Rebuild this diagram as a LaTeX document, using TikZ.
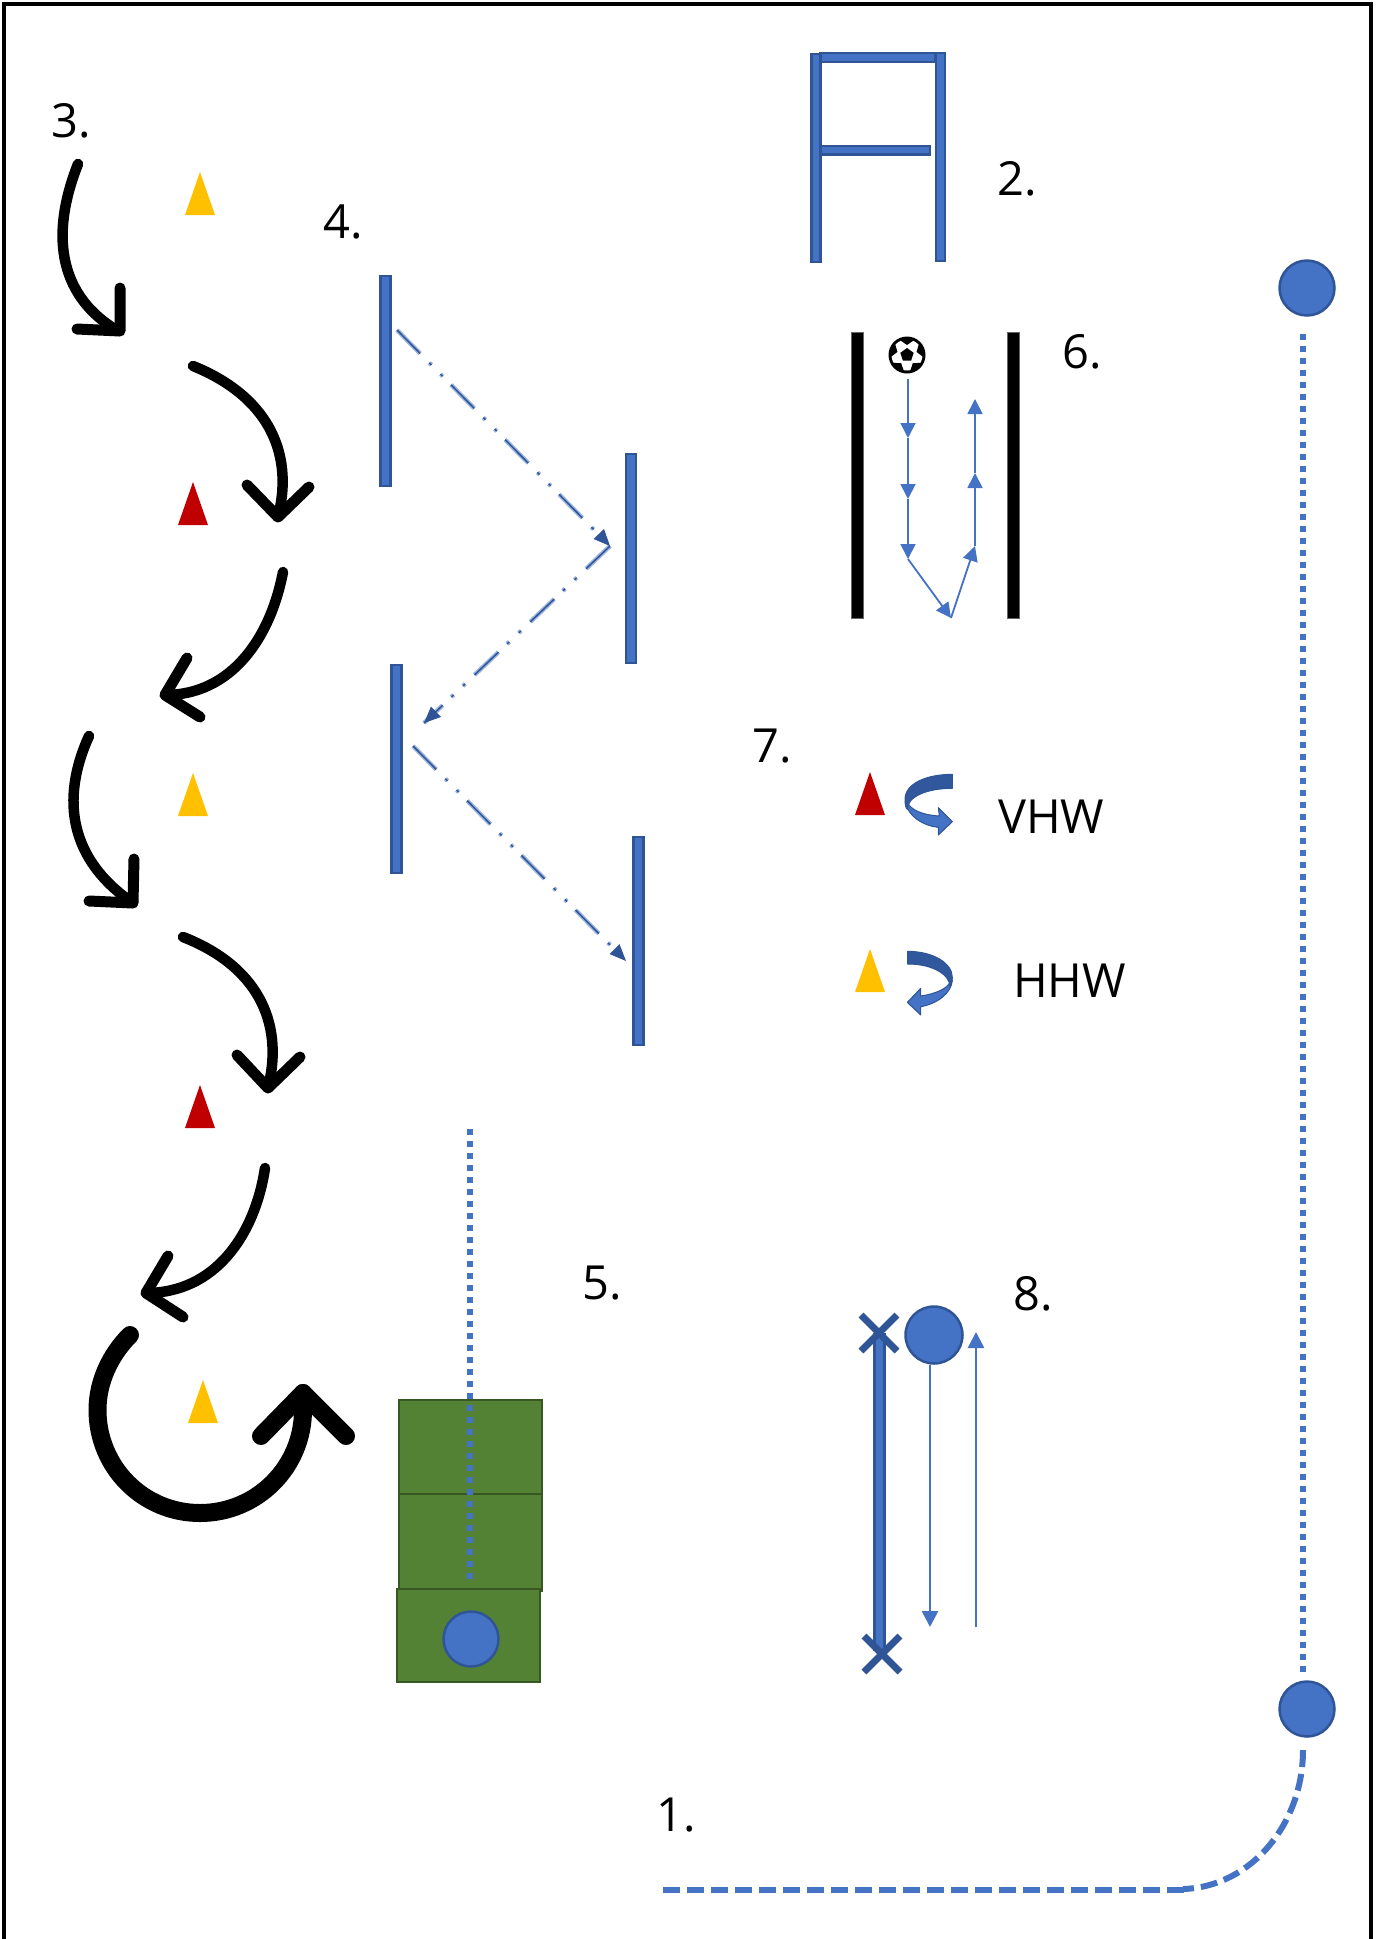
\documentclass[tikz,border=0pt]{standalone}
\usepackage{fontspec}
\setmainfont{Open Sans}
\usetikzlibrary{arrows.meta}
\definecolor{bluefill}{HTML}{4472C4}
\definecolor{blueedge}{HTML}{2F5597}
\definecolor{bluelight}{HTML}{9DB4DE}
\definecolor{greenfill}{HTML}{548235}
\definecolor{greenedge}{HTML}{385723}
\definecolor{conered}{HTML}{C00000}
\definecolor{conegold}{HTML}{FFC000}
\tikzset{
  lab/.style={inner sep=0pt,anchor=base west,font=\fontsize{47}{57}\selectfont,text=black},
  bar/.style={draw=blueedge,fill=bluefill,line width=2.5pt,inner sep=0pt,outer sep=0pt},
  blackbar/.style={fill=black,draw=black!60,line width=0.5pt,inner sep=0pt,outer sep=0pt},
  greenbox/.style={draw=greenedge,fill=greenfill,line width=2.2pt,inner sep=0pt,outer sep=0pt},
  disc/.style={circle,draw=blueedge,fill=bluefill,line width=2.5pt,inner sep=0pt,outer sep=0pt,minimum size=55pt},
  swoop/.style={draw=black,line width=10.5pt,line cap=round,line join=round},
  swoophead/.style={draw=black,line width=11pt,line cap=round,line join=round},
  bigswoop/.style={draw=black,line width=18pt,line cap=round,line join=round},
  thinarrow/.style={draw=bluefill,line width=1.8pt,-{Triangle[length=15pt,width=15pt]}},
  longarrow/.style={draw=bluefill,line width=2.6pt,-{Triangle[length=16pt,width=16pt]}},
  dotline/.style={draw=bluefill,line width=6pt,dash pattern=on 6pt off 6pt},
  dashline/.style={draw=bluefill,line width=6pt,dash pattern=on 17pt off 7pt},
  crossmark/.style={draw=blueedge,line width=7pt},
  ribbondark/.style={fill=blueedge!90!bluefill,draw=blueedge,line width=1pt,line join=round},
  ribbonlight/.style={fill=bluefill,draw=blueedge,line width=1pt,line join=round},
  ddotline/.style={line width=4.4pt,draw=bluelight,dash pattern=on 33pt off 13pt on 3pt off 13pt on 3pt off 12pt},
  ddotcore/.style={line width=1.5pt,draw=blueedge,dash pattern=on 33pt off 13pt on 3pt off 13pt on 3pt off 12pt},
  ddothead/.style={fill=blueedge},
}
\begin{document}
\begin{tikzpicture}[x=1pt,y=-1pt]
\useasboundingbox (0,0) rectangle (1381,1939);
% frame
\draw[black,line width=4pt] (4,1945) -- (4,4) -- (1371,4) -- (1371,1945);

% labels
\node[lab] (l1) at (656,1831) {1.};
\node[lab] (l2) at (997,195) {2.};
\node[lab] (l3) at (51,137) {3.};
\node[lab] (l4) at (323,238) {4.};
\node[lab] (l5) at (582,1299) {5.};
\node[lab] (l6) at (1062,368) {6.};
\node[lab] (l7) at (752,762) {7.};
\node[lab] (l8) at (1013,1310) {8.};
\node[lab] (vhw) at (998,833) {VHW};
\node[lab] (hhw) at (1013,997) {HHW};

% cones
\fill[conegold] (200,172) -- (215,215) -- (185,215) -- cycle;
\fill[conered] (193,482) -- (208,525) -- (178,525) -- cycle;
\fill[conegold] (193,773) -- (208,816) -- (178,816) -- cycle;
\fill[conered] (200,1085) -- (215,1128) -- (185,1128) -- cycle;
\fill[conegold] (203,1380) -- (218,1423) -- (188,1423) -- cycle;
\fill[conered] (870,772) -- (885,815) -- (855,815) -- cycle;
\fill[conegold] (870,949) -- (885,992) -- (855,992) -- cycle;

% black swoops
\draw[swoop] (78,164) .. controls (48,240) and (62,298) .. (118,331);
\draw[swoophead] (120,288) -- (120,331) -- (77,329);
\draw[swoop] (193,366) .. controls (265,395) and (295,450) .. (278,517);
\draw[swoophead] (247,485) -- (278,517) -- (309,487);
\draw[swoop] (283,572) .. controls (270,640) and (230,695) .. (165,695);
\draw[swoophead] (187,658) -- (165,695) -- (200,717);
\draw[swoop] (89,736) .. controls (60,800) and (70,860) .. (133,903);
\draw[swoophead] (134,859) -- (133,903) -- (89,901);
\draw[swoop] (183,937) .. controls (255,965) and (285,1020) .. (268,1088);
\draw[swoophead] (237,1055) -- (268,1088) -- (300,1057);
\draw[swoop] (265,1168) .. controls (255,1235) and (215,1293) .. (146,1293);
\draw[swoophead] (168,1256) -- (146,1293) -- (183,1317);
\draw[bigswoop] (130,1335) .. controls (110,1355) and (97.5,1382) .. (97.5,1410)
   .. controls (97.5,1467) and (143,1513) .. (200,1513)
   .. controls (257,1513) and (303,1467) .. (303,1410) -- (303,1393);
\draw[bigswoop] (261,1436) -- (303,1393) -- (346,1436);

% bars of item 4
\node[bar,minimum width=10pt,minimum height=210pt] (b1) at (385.5,381) {};
\node[bar,minimum width=10pt,minimum height=209pt] (b2) at (631,558.5) {};
\node[bar,minimum width=10pt,minimum height=208pt] (b3) at (396.5,769) {};
\node[bar,minimum width=10pt,minimum height=208pt] (b4) at (638.5,941) {};
\coordinate (za) at (397,330);
\coordinate (zb) at (610,546);
\coordinate (zc) at (424,723);
\coordinate (zd) at (413,746);
\coordinate (ze) at (626,961);
\foreach \p/\q in {za/zb,zb/zc,zd/ze}{
  \draw[ddotline] (\p) -- (\q);
  \draw[ddotcore] (\p) -- (\q);
}
\fill[ddothead] (610,546) -- (593.5,539) -- (604,529) -- cycle;
\fill[ddothead] (424,723) -- (431,706.5) -- (441,717) -- cycle;
\fill[ddothead] (626,961) -- (609.5,954) -- (619.5,944) -- cycle;

% item 2
\node[bar,minimum width=115pt,minimum height=9pt] (ch3) at (877.5,57.5) {};
\node[bar,minimum width=110pt,minimum height=8.5pt] (ch4) at (875,150) {};
\node[bar,minimum width=9pt,minimum height=208pt] (ch1) at (816,158) {};
\node[bar,minimum width=9pt,minimum height=208pt] (ch2) at (940.5,157) {};

% item 6
\node[blackbar,minimum width=12pt,minimum height=286pt] (s1) at (857,475) {};
\node[blackbar,minimum width=12pt,minimum height=286pt] (s2) at (1013,475) {};
\node[circle,fill=black,inner sep=0pt,outer sep=0pt,minimum size=37pt] (ball) at (907,355) {};
\begin{scope}[shift={(907,355)}]
  \fill[white] (0,0) circle (15.5pt);
  \foreach \a in {18,90,162,234,306}{
    \fill[black] (-\a-28:18) -- (-\a+28:18) -- (-\a:10) -- cycle;
  }
  \fill[black] (-90:7) -- (-18:7) -- (54:7) -- (126:7) -- (198:7) -- cycle;
\end{scope}
\coordinate (d0) at (908,379);
\coordinate (d1) at (908,438);
\coordinate (d2) at (908,499);
\coordinate (d3) at (908,559);
\coordinate (d4) at (951,618);
\coordinate (d5) at (975,546);
\coordinate (d6) at (975,473);
\coordinate (d7) at (975,399);
\draw[thinarrow] (d0) -- (d1);
\draw[thinarrow] (d1) -- (d2);
\draw[thinarrow] (d2) -- (d3);
\draw[thinarrow] (d3) -- (d4);
\draw[thinarrow] (d4) -- (d5);
\draw[thinarrow] (d5) -- (d6);
\draw[thinarrow] (d6) -- (d7);

% item 7 ribbons
\begin{scope}[shift={(820,740)},scale=1/3]
  \path[ribbonlight] (256,185) .. controls (262,228) and (310,258) .. (355,262) -- (355,285) -- (397,245) -- (355,203) -- (358,228)
     .. controls (310,225) and (270,212) .. (258,180) -- cycle;
  \path[ribbondark] (397,103) .. controls (320,103) and (255,130) .. (255,178)
     .. controls (255,195) and (258,205) .. (262,208)
     .. controls (262,170) and (320,145) .. (397,145) -- cycle;
  \path[ribbonlight] (397,720) .. controls (395,760) and (350,792) .. (302,800) -- (302,825) -- (262,787) -- (302,745) -- (302,768)
     .. controls (345,762) and (385,745) .. (390,725) -- cycle;
  \path[ribbondark] (263,634) .. controls (340,634) and (397,670) .. (397,712)
     .. controls (397,725) and (393,735) .. (390,740)
     .. controls (390,705) and (340,672) .. (263,672) -- cycle;
\end{scope}

% item 5
\node[greenbox,minimum width=143pt,minimum height=94pt] (g1) at (470.5,1447) {};
\node[greenbox,minimum width=143pt,minimum height=97pt] (g2) at (470.5,1542.5) {};
\node[greenbox,minimum width=143pt,minimum height=93pt] (g3) at (468.5,1635.5) {};
\node[disc] (g4) at (471,1639) {};
\coordinate (t5a) at (470,1129);
\coordinate (t5b) at (470,1583);
\draw[dotline] (t5a) -- (t5b);

% item 8
\coordinate (xa) at (879,1333);
\coordinate (xb) at (882,1654);
\node[bar,minimum width=10pt,minimum height=316pt] (p8) at (879.5,1492) {};
\draw[crossmark] (861,1315) -- (897,1351) (861,1351) -- (897,1315);
\draw[crossmark] (864,1636) -- (900,1672) (864,1672) -- (900,1636);
\node[disc,minimum size=57pt] (c8) at (934,1335) {};
\coordinate (a8) at (930,1365);
\coordinate (b8) at (930,1627);
\coordinate (e8) at (976,1627);
\coordinate (f8) at (976,1332);
\draw[longarrow] (a8) -- (b8);
\draw[longarrow] (e8) -- (f8);

% right-hand track
\node[disc] (t) at (1307,288) {};
\node[disc] (u) at (1307,1709) {};
\coordinate (v1) at (1303,334);
\coordinate (v2) at (1303,1674);
\draw[dotline] (v1) -- (v2);
\coordinate (w1) at (1303,1750);
\coordinate (w2) at (1183,1889);
\coordinate (w3) at (663,1890);
\draw[dashline] (w1) .. controls (1303,1825) and (1250,1887) .. (w2);
\draw[dashline] (w3) -- (1185,1890);
\end{tikzpicture}
\end{document}
